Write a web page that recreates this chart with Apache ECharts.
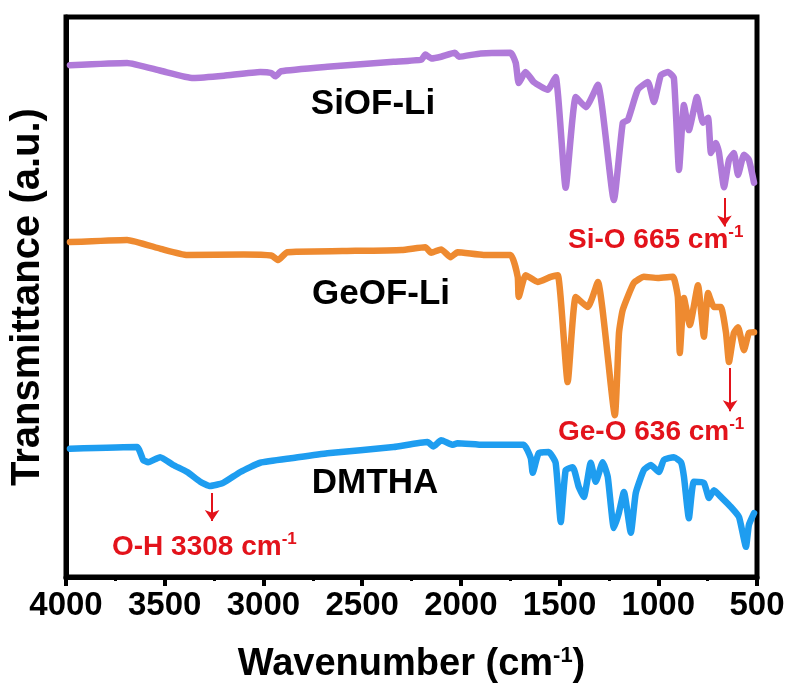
<!DOCTYPE html>
<html><head><meta charset="utf-8">
<script src="https://cdn.jsdelivr.net/npm/echarts@6/dist/echarts.min.js"></script>
<style>html,body{margin:0;padding:0;background:#fff}#c{width:791px;height:693px}</style>
</head><body><div id="c"></div>
<script>
// x tick labels (wavenumber, cm-1)
const xTicks = [4000, 3500, 3000, 2500, 2000, 1500, 1000, 500];

// SiOF-Li (offset transmittance, a.u.)
const siWn = [3980,3691,3520,3356,3200,3016,2960,2940,2910,2676,2341,2200,2180,2150,2100,2030,2010,1900,1748,1722,1707,1672,1631,1560,1520,1469,1418,1367,1306,1225,1180,1154,1104,1053,1022,987,951,921,895,870,845,804,774,748,733,708,693,667,642,617,596,566,541,515];
const siT  = [91.4,91.8,90.4,89.1,89.5,90.2,90.0,89.4,90.3,91.1,92.0,92.4,93.3,92.6,92.9,93.6,92.9,93.5,93.6,91.8,88.2,90.2,88.4,87.0,89.3,69.5,85.7,83.9,87.9,67.3,81.1,81.6,87.0,88.4,84.8,89.6,90.2,89.1,72.7,84.3,79.8,85.7,81.1,82.0,75.7,77.5,75.9,69.6,74.5,75.7,71.8,75.4,74.5,70.4];

// GeOF-Li
const geWn = [3980,3691,3520,3386,3100,2960,2925,2880,2600,2300,2180,2150,2100,2052,2017,1885,1748,1712,1707,1672,1611,1545,1509,1459,1418,1357,1306,1220,1199,1180,1124,1073,1002,926,901,891,870,840,799,769,748,718,683,657,642,617,596,566,541,515];
const geT  = [59.8,60.2,58.6,57.5,57.6,57.4,56.6,58.0,58.2,58.4,58.9,57.9,58.5,57.1,58.0,57.5,57.5,53.6,50.0,53.9,52.7,53.6,53.9,34.8,50.0,48.2,52.7,28.9,43.6,47.7,52.5,53.6,53.4,53.6,50.0,40.0,49.8,45.0,52.1,42.9,50.7,48.2,48.2,43.6,38.4,43.6,44.6,40.5,43.6,43.7];

// DMTHA
const dmWn = [3980,3640,3609,3584,3523,3457,3386,3320,3270,3204,3117,3016,2849,2676,2341,2169,2140,2100,2040,2017,1885,1682,1646,1636,1606,1555,1520,1494,1469,1433,1403,1377,1342,1317,1281,1256,1225,1200,1174,1139,1114,1073,1038,997,972,921,885,870,845,820,769,743,718,683,632,591,556,541,515];
const dmT  = [22.9,23.2,20.9,20.5,21.4,20.0,18.75,17.0,16.25,16.8,18.75,20.4,21.25,22.1,23.2,24.1,23.3,24.4,23.6,23.9,23.6,23.6,21.25,18.6,22.1,22.3,20.4,9.8,19.1,19.6,16.1,14.3,20.4,17.0,20.5,17.9,8.75,11.4,15.2,7.9,15.0,19.1,20.0,18.75,20.9,21.4,20.5,17.9,10.5,17.0,16.8,14.1,15.5,14.3,12.5,10.7,5.4,9.3,11.4];

const seriesNames = ['SiOF-Li', 'GeOF-Li', 'DMTHA'];
const seriesColors = ['#b07ad9', '#ee8a30', '#1e9df0'];

// annotations: [wavenumber of arrow, arrow top, arrow tip]
const annoText = ['Si-O 665 cm', 'Ge-O 636 cm', 'O-H 3308 cm'];
const annoArrow = [[665, 67.7, 62.6], [636, 37.3, 29.6], [3260, 15.0, 10.0]];

const FONT = '"Liberation Sans", Arial, sans-serif';
const RED = '#e3131b';

function pairs(w, t) { return w.map((x, i) => [x, t[i]]); }

const chart = echarts.init(document.getElementById('c'));
const dataSets = [pairs(siWn, siT), pairs(geWn, geT), pairs(dmWn, dmT)];

const series = dataSets.map((d, i) => ({
  name: seriesNames[i],
  type: 'line',
  data: d,
  symbol: 'none',
  smooth: 0.15,
  lineStyle: { color: seriesColors[i], width: 6.5, join: 'round', cap: 'round' },
  silent: true,
  z: 2,
  markLine: {
    silent: true,
    symbol: ['none', 'arrow'],
    symbolSize: 11,
    label: { show: false },
    lineStyle: { color: RED, width: 2, type: 'solid' },
    animation: false,
    data: [[{ coord: [annoArrow[i][0], annoArrow[i][1]] }, { coord: [annoArrow[i][0], annoArrow[i][2]] }]]
  }
}));

const richAnno = {
  m: { fontSize: 28, fontWeight: 'bold', fill: RED, fontFamily: FONT },
  s: { fontSize: 17, fontWeight: 'bold', fill: RED, fontFamily: FONT, padding: [0, 0, 15, 0] }
};

chart.setOption({
  animation: false,
  backgroundColor: '#fff',
  grid: { left: 66, right: 34, top: 17, bottom: 116, show: true, borderColor: '#000', borderWidth: 5, backgroundColor: 'transparent' },
  xAxis: {
    type: 'value', min: 500, max: 4000, interval: 500, inverse: true,
    name: '{a|Wavenumber (cm}{s|-1}{a|)}', nameLocation: 'middle', nameGap: 68,
    nameTextStyle: { rich: {
      a: { fontSize: 38, fontWeight: 'bold', color: '#000', fontFamily: FONT },
      s: { fontSize: 22, fontWeight: 'bold', color: '#000', fontFamily: FONT, padding: [0, 0, 18, 0] }
    } },
    axisLine: { show: true, lineStyle: { color: '#000', width: 5 } },
    axisTick: { show: true, inside: false, length: 9, lineStyle: { color: '#000', width: 4 } },
    minorTick: { show: true, splitNumber: 2, length: 4, lineStyle: { color: '#000', width: 3 } },
    splitLine: { show: false },
    axisLabel: { margin: 12, fontSize: 33, fontWeight: 'bold', color: '#000', fontFamily: FONT,
      formatter: v => xTicks.includes(v) ? String(v) : '' }
  },
  yAxis: {
    type: 'value', min: 0, max: 100,
    name: 'Transmittance (a.u.)', nameLocation: 'middle', nameGap: 18, nameRotate: 90,
    nameTextStyle: { fontSize: 40, fontWeight: 'bold', color: '#000', fontFamily: FONT },
    axisLine: { show: true, lineStyle: { color: '#000', width: 5 } },
    axisTick: { show: false }, axisLabel: { show: false }, splitLine: { show: false }
  },
  series: series,
  graphic: [
    { type: 'text', x: 373, y: 104, silent: true, style: { text: seriesNames[0], font: 'bold 35px ' + FONT, fill: '#000', align: 'center', verticalAlign: 'middle' } },
    { type: 'text', x: 381, y: 294, silent: true, style: { text: seriesNames[1], font: 'bold 35px ' + FONT, fill: '#000', align: 'center', verticalAlign: 'middle' } },
    { type: 'text', x: 375, y: 483, silent: true, style: { text: seriesNames[2], font: 'bold 35px ' + FONT, fill: '#000', align: 'center', verticalAlign: 'middle' } },
    { type: 'text', x: 568, y: 240, silent: true, style: { text: '{m|' + annoText[0] + '}{s|-1}', rich: richAnno, align: 'left', verticalAlign: 'middle' } },
    { type: 'text', x: 558, y: 432, silent: true, style: { text: '{m|' + annoText[1] + '}{s|-1}', rich: richAnno, align: 'left', verticalAlign: 'middle' } },
    { type: 'text', x: 112, y: 547, silent: true, style: { text: '{m|' + annoText[2] + '}{s|-1}', rich: richAnno, align: 'left', verticalAlign: 'middle' } }
  ]
});
</script></body></html>
